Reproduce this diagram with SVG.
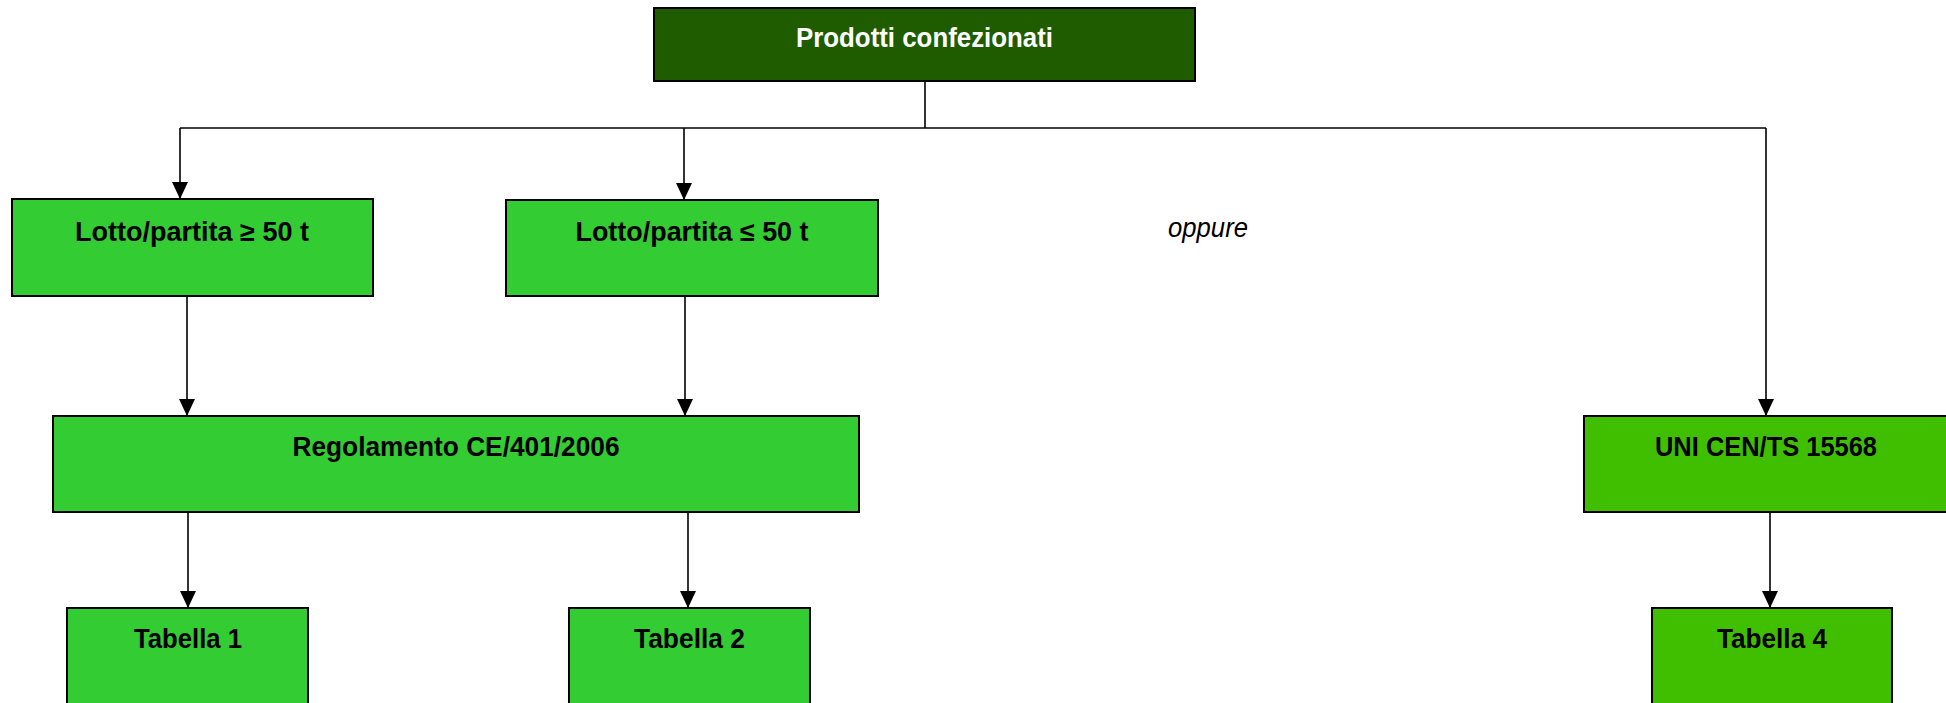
<svg xmlns="http://www.w3.org/2000/svg" width="1946" height="703" viewBox="0 0 1946 703">
<style>
.box{stroke:#000;stroke-width:2}
.dark{fill:#1F5C00}
.green{fill:#33CC33}
.lime{fill:#40BF00}
.lbl{font-family:"Liberation Sans",Arial,sans-serif;font-weight:bold;font-size:27px;text-anchor:middle;fill:#000}
.white{fill:#fff}
.conn{stroke:#000;stroke-width:1.6;fill:none}
.it{font-family:"Liberation Sans",Arial,sans-serif;font-style:italic;font-size:27px;fill:#000}
</style>
<defs>
<marker id="arr" markerUnits="userSpaceOnUse" markerWidth="16" markerHeight="16" viewBox="0 0 16 16" refX="8" refY="16" orient="auto-start-reverse">
<path d="M0,0 L16,0 L8,16 Z" fill="#000" transform="rotate(-90 8 8)"/>
</marker>
<marker id="ah" markerUnits="userSpaceOnUse" markerWidth="16" markerHeight="17" viewBox="0 0 16 17" refX="8" refY="17" orient="0">
<path d="M0,0 L16,0 L8,17 Z" fill="#000"/>
</marker>
</defs>
<rect width="1946" height="703" fill="#fff"/>
<g id="connectors">
<line class="conn" x1="925" y1="81" x2="925" y2="128"/>
<line class="conn" x1="180" y1="128" x2="1766" y2="128"/>
<line class="conn" x1="180" y1="128" x2="180" y2="199" marker-end="url(#ah)"/>
<line class="conn" x1="684" y1="128" x2="684" y2="200" marker-end="url(#ah)"/>
<line class="conn" x1="1766" y1="128" x2="1766" y2="416" marker-end="url(#ah)"/>
<line class="conn" x1="187" y1="296" x2="187" y2="416" marker-end="url(#ah)"/>
<line class="conn" x1="685" y1="296" x2="685" y2="416" marker-end="url(#ah)"/>
<line class="conn" x1="188" y1="512" x2="188" y2="608" marker-end="url(#ah)"/>
<line class="conn" x1="688" y1="512" x2="688" y2="608" marker-end="url(#ah)"/>
<line class="conn" x1="1770" y1="512" x2="1770" y2="608" marker-end="url(#ah)"/>
</g>
<g id="prodotti">
<rect class="box dark" x="654" y="8" width="541" height="73"/>
<text class="lbl white" x="924.5" y="47" textLength="257" lengthAdjust="spacingAndGlyphs">Prodotti confezionati</text>
</g>
<g id="lotto-ge">
<rect class="box green" x="12" y="199" width="361" height="97"/>
<text class="lbl" x="192" y="241" textLength="234" lengthAdjust="spacingAndGlyphs">Lotto/partita ≥ 50 t</text>
</g>
<g id="lotto-le">
<rect class="box green" x="506" y="200" width="372" height="96"/>
<text class="lbl" x="692" y="241" textLength="233" lengthAdjust="spacingAndGlyphs">Lotto/partita ≤ 50 t</text>
</g>
<g id="oppure">
<text class="it" x="1168" y="237" textLength="80" lengthAdjust="spacingAndGlyphs">oppure</text>
</g>
<g id="regolamento">
<rect class="box green" x="53" y="416" width="806" height="96"/>
<text class="lbl" x="456" y="456" textLength="327" lengthAdjust="spacingAndGlyphs">Regolamento CE/401/2006</text>
</g>
<g id="uni">
<rect class="box lime" x="1584" y="416" width="370" height="96"/>
<text class="lbl" x="1766" y="456" textLength="222" lengthAdjust="spacingAndGlyphs">UNI CEN/TS 15568</text>
</g>
<g id="tabella1">
<rect class="box green" x="67" y="608" width="241" height="110"/>
<text class="lbl" x="188" y="648" textLength="108" lengthAdjust="spacingAndGlyphs">Tabella 1</text>
</g>
<g id="tabella2">
<rect class="box green" x="569" y="608" width="241" height="110"/>
<text class="lbl" x="689.5" y="648" textLength="111" lengthAdjust="spacingAndGlyphs">Tabella 2</text>
</g>
<g id="tabella4">
<rect class="box lime" x="1652" y="608" width="240" height="110"/>
<text class="lbl" x="1772" y="648" textLength="110" lengthAdjust="spacingAndGlyphs">Tabella 4</text>
</g>
</svg>
